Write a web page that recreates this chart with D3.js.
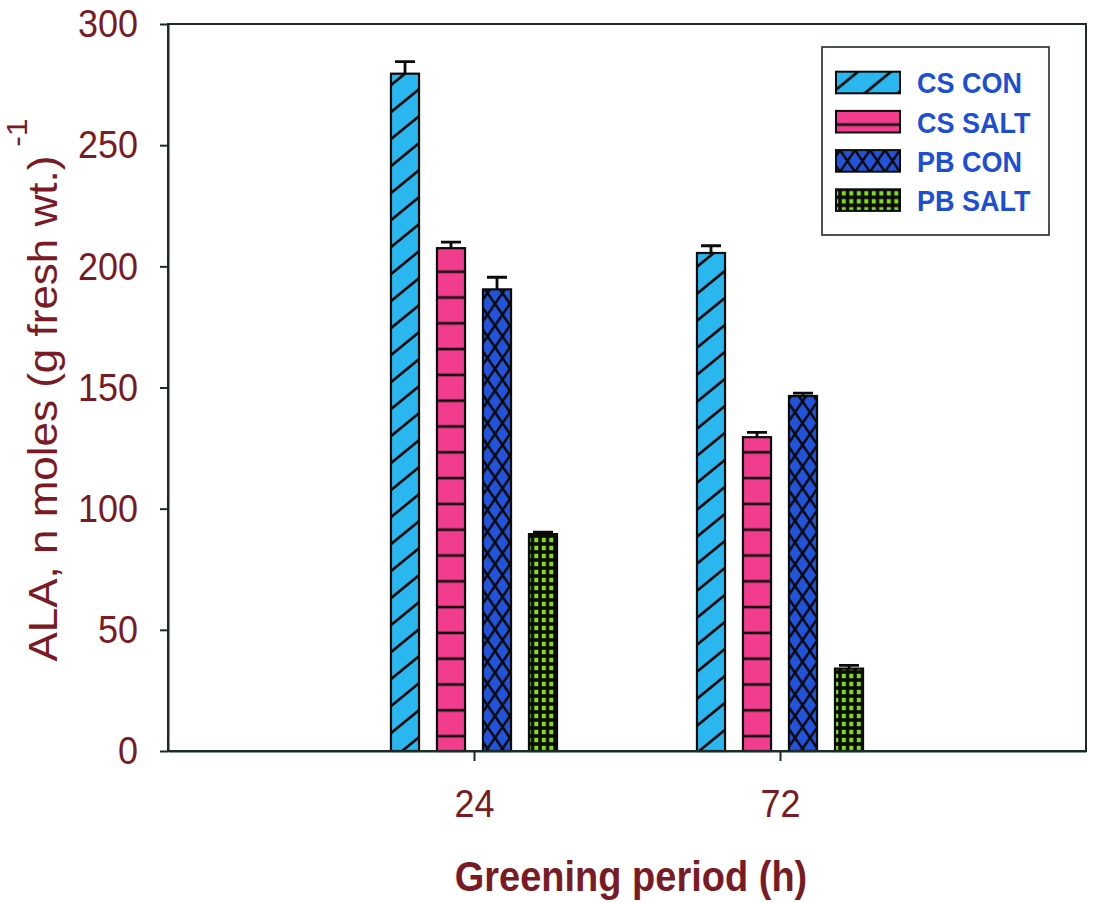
<!DOCTYPE html>
<html>
<head>
<meta charset="utf-8">
<script src="https://cdn.jsdelivr.net/npm/d3@7"></script>
<style>
  html, body { margin: 0; padding: 0; background: #ffffff; }
  svg { display: block; font-family: "Liberation Sans", Arial, sans-serif; }
</style>
</head>
<body>
<svg id="chart" width="1094" height="903"></svg>
<script>
// Greening period categories and treatment series
const categories = ["24", "72"];
const seriesNames = ["CS CON", "CS SALT", "PB CON", "PB SALT"];

// ALA content, n moles (g fresh wt.)^-1, with error bars (one value per category)
const csCon      = [279.5, 205.5];
const csConErr   = [5.0, 3.0];
const csSalt     = [207.5, 129.5];
const csSaltErr  = [2.5, 2.0];
const pbCon      = [190.5, 146.5];
const pbConErr   = [5.0, 1.2];
const pbSalt     = [89.5, 34.0];
const pbSaltErr  = [0.8, 1.3];

const yTicks = [0, 50, 100, 150, 200, 250, 300];

const seriesValues = [csCon, csSalt, pbCon, pbSalt];
const seriesErrors = [csConErr, csSaltErr, pbConErr, pbSaltErr];

const labelRed = "#7a1a24";
const legendBlue = "#1c4fd4";
const axisInk = "#1d2a2a";
const STRETCH = 1.1;

const svg = d3.select("#chart");

const plot = { left: 168, right: 1086, top: 24, bottom: 751 };

const x = d3.scalePoint().domain(categories).range([plot.left, plot.right]).padding(1);
const xInner = d3.scaleBand().domain(seriesNames).range([-92, 92])
  .paddingInner(0.39).paddingOuter(0.195);
const y = d3.scaleLinear().domain([0, 300]).range([plot.bottom, plot.top]);

// ---- fill patterns ----
const defs = svg.append("defs");

// light blue with "/" hatching
(function () {
  const w = 33, h = 27;
  const p = defs.append("pattern").attr("id", "pat-cscon")
    .attr("patternUnits", "userSpaceOnUse").attr("width", w).attr("height", h);
  p.append("rect").attr("width", w).attr("height", h).attr("fill", "#2ab6ef");
  p.append("path")
    .attr("d", `M0,${h} L${w},0 M${-w / 2},${h / 2} L${w / 2},${-h / 2} M${w / 2},${h * 1.5} L${w * 1.5},${h / 2}`)
    .attr("stroke", "#0b0b0b").attr("stroke-width", 2.7);
})();

// pink with horizontal rules
(function () {
  const w = 10, h = 25.8;
  const p = defs.append("pattern").attr("id", "pat-cssalt")
    .attr("patternUnits", "userSpaceOnUse").attr("width", w).attr("height", h)
    .attr("y", 13.7);
  p.append("rect").attr("width", w).attr("height", h).attr("fill", "#f23c8e");
  p.append("line").attr("x1", 0).attr("x2", w).attr("y1", 0).attr("y2", 0)
    .attr("stroke", "#0b0b0b").attr("stroke-width", 2.6);
  p.append("line").attr("x1", 0).attr("x2", w).attr("y1", h).attr("y2", h)
    .attr("stroke", "#0b0b0b").attr("stroke-width", 2.6);
})();

// royal blue with cross hatching
(function () {
  const w = 15, h = 21.7;
  const p = defs.append("pattern").attr("id", "pat-pbcon")
    .attr("patternUnits", "userSpaceOnUse").attr("width", w).attr("height", h);
  p.append("rect").attr("width", w).attr("height", h).attr("fill", "#2153dc");
  p.append("path")
    .attr("d", `M0,${h} L${w},0 M${-w / 2},${h / 2} L${w / 2},${-h / 2} M${w / 2},${h * 1.5} L${w * 1.5},${h / 2}` +
               ` M0,0 L${w},${h} M${-w / 2},${h / 2} L${w / 2},${h * 1.5} M${w / 2},${-h / 2} L${w * 1.5},${h / 2}`)
    .attr("stroke", "#0b0b0b").attr("stroke-width", 2.6);
})();

// black ground with green dots
(function () {
  const w = 7.5, h = 8;
  const p = defs.append("pattern").attr("id", "pat-pbsalt")
    .attr("patternUnits", "userSpaceOnUse").attr("width", w).attr("height", h);
  p.append("rect").attr("width", w).attr("height", h).attr("fill", "#0b0b0b");
  p.append("rect").attr("x", 1.8).attr("y", 1.8).attr("width", 4).attr("height", 4.4)
    .attr("fill", "#7fdc1e");
})();

const fills = {
  "CS CON": "url(#pat-cscon)",
  "CS SALT": "url(#pat-cssalt)",
  "PB CON": "url(#pat-pbcon)",
  "PB SALT": "url(#pat-pbsalt)"
};

// ---- bars ----
const barData = [];
seriesNames.forEach((s, si) => {
  categories.forEach((c, ci) => {
    barData.push({ series: s, cat: c, value: seriesValues[si][ci], err: seriesErrors[si][ci] });
  });
});

const bars = svg.append("g").attr("class", "bars");

bars.selectAll("rect")
  .data(barData)
  .join("rect")
  .attr("x", d => x(d.cat) + xInner(d.series))
  .attr("y", d => y(d.value))
  .attr("width", xInner.bandwidth())
  .attr("height", d => y(0) - y(d.value))
  .attr("fill", d => fills[d.series])
  .attr("stroke", "#0b0b0b")
  .attr("stroke-width", 2.2);

// ---- error bars (upper half) ----
const errG = svg.append("g").attr("class", "errors")
  .attr("stroke", "#0b0b0b").attr("stroke-width", 2.8).attr("fill", "none");

errG.selectAll("path")
  .data(barData)
  .join("path")
  .attr("d", d => {
    const cx = x(d.cat) + xInner(d.series) + xInner.bandwidth() / 2;
    const y0 = y(d.value), y1 = y(d.value + d.err);
    return `M${cx},${y0} L${cx},${y1} M${cx - 10},${y1} L${cx + 10},${y1}`;
  });

// ---- frame ----
svg.append("rect")
  .attr("x", plot.left).attr("y", plot.top)
  .attr("width", plot.right - plot.left).attr("height", plot.bottom - plot.top)
  .attr("fill", "none").attr("stroke", axisInk).attr("stroke-width", 2);

// ---- axes ----
const yAxis = svg.append("g")
  .attr("transform", `translate(${plot.left},0)`)
  .call(d3.axisLeft(y).tickValues(yTicks).tickSizeInner(8).tickSizeOuter(0)
    .tickPadding(22).tickFormat(d3.format("d")));

const xAxis = svg.append("g")
  .attr("transform", `translate(0,${plot.bottom})`)
  .call(d3.axisBottom(x).tickSizeInner(10).tickSizeOuter(0).tickPadding(24));

[yAxis, xAxis].forEach(g => {
  g.select(".domain").attr("stroke", axisInk).attr("stroke-width", 2);
  g.selectAll(".tick line").attr("stroke", axisInk).attr("stroke-width", 2);
  g.selectAll(".tick text")
    .attr("fill", labelRed)
    .attr("font-size", 36)
    .attr("font-family", "'Liberation Sans', Arial, sans-serif")
    .attr("transform", `scale(1,${STRETCH})`);
});

// ---- axis titles ----
svg.append("text")
  .attr("transform", `translate(631,891) scale(1,${STRETCH})`)
  .attr("text-anchor", "middle")
  .attr("font-size", 38)
  .attr("font-weight", "bold")
  .attr("fill", labelRed)
  .text("Greening period (h)");

const yTitle = svg.append("text")
  .attr("transform", `translate(57,390) rotate(-90) scale(${STRETCH},1)`)
  .attr("text-anchor", "middle")
  .attr("font-size", 40)
  .attr("fill", labelRed);
yTitle.append("tspan").text("ALA, n moles (g fresh wt.)");
yTitle.append("tspan").attr("font-size", 29).attr("dy", -30).text("\u00a0-1");

// ---- legend ----
const legend = svg.append("g").attr("class", "legend");
legend.append("rect")
  .attr("x", 822).attr("y", 47).attr("width", 227).attr("height", 188)
  .attr("fill", "#ffffff").attr("stroke", axisInk).attr("stroke-width", 1.6);

const legendRows = legend.selectAll("g.row")
  .data(seriesNames)
  .join("g")
  .attr("class", "row")
  .attr("transform", (d, i) => `translate(0,${71.7 + i * 39.2})`);

legendRows.append("rect")
  .attr("x", 836).attr("y", 0).attr("width", 64).attr("height", 21.6)
  .attr("fill", d => fills[d])
  .attr("stroke", "#0b0b0b").attr("stroke-width", 2);

legendRows.append("text")
  .attr("transform", `translate(917,21.6) scale(1,${STRETCH})`)
  .attr("font-size", 27)
  .attr("font-weight", "bold")
  .attr("fill", legendBlue)
  .text(d => d);
</script>
</body>
</html>
